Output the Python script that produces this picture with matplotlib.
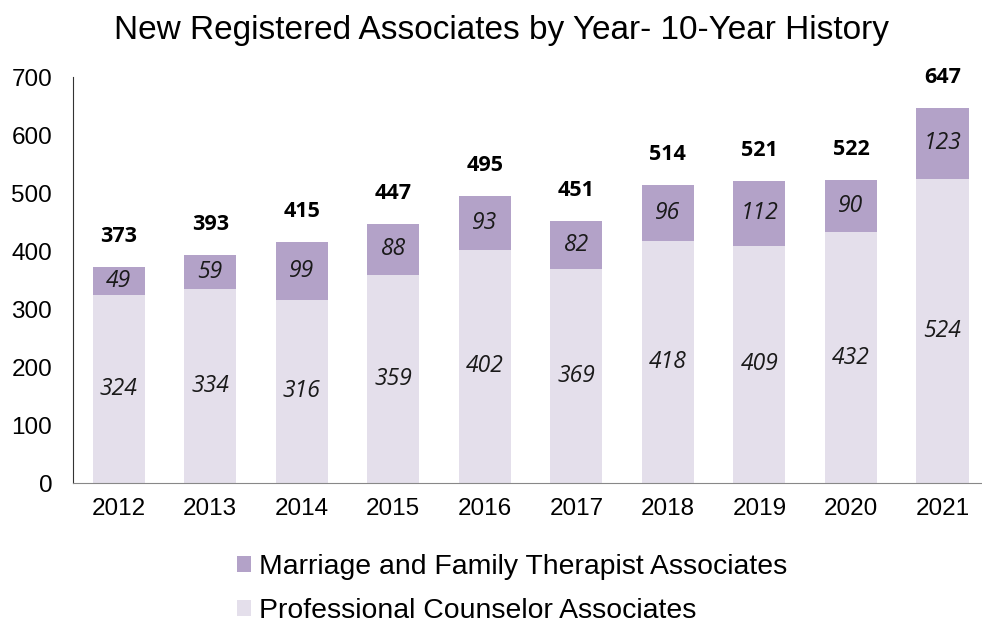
import matplotlib.pyplot as plt
import numpy as np

years = ["2012", "2013", "2014", "2015", "2016", "2017", "2018", "2019", "2020", "2021"]
pc = [324, 334, 316, 359, 402, 369, 418, 409, 432, 524]
mft = [49, 59, 99, 88, 93, 82, 96, 112, 90, 123]
totals = [373, 393, 415, 447, 495, 451, 514, 521, 522, 647]

c_pc = "#e4dfeb"
c_mft = "#b3a2c8"

plt.rcParams["font.family"] = ["Liberation Sans", "DejaVu Sans"]

fig = plt.figure(figsize=(9.82, 6.25), dpi=100)
ax = fig.add_axes([0.0743, 0.2272, 0.932, 0.6496])

x = np.arange(len(years))
w = 0.57
b1 = ax.bar(x, pc, w, color=c_pc, label="Professional Counselor Associates")
b2 = ax.bar(x, mft, w, bottom=pc, color=c_mft, label="Marriage and Family Therapist Associates")

for i in range(len(years)):
    ax.text(x[i], pc[i] / 2, str(pc[i]), ha="center", va="center", fontsize=16.5,
            style="italic", family="Open Sans", color="#1a1a1a")
    ax.text(x[i], pc[i] + mft[i] / 2, str(mft[i]), ha="center", va="center", fontsize=16.5,
            style="italic", family="Open Sans", color="#1a1a1a")
    ax.annotate(str(totals[i]), (x[i], totals[i]), xytext=(0, 22), textcoords="offset points",
                ha="center", va="center", fontsize=15.5, fontweight="bold", family="Open Sans")

ax.set_xlim(-0.5, len(years) - 0.5)
ax.set_ylim(0, 700)
ax.set_yticks(range(0, 701, 100))
ax.set_xticks(x)
ax.set_xticklabels(years)
ax.tick_params(axis="both", labelsize=17.5, length=0)
ax.tick_params(axis="x", pad=11)
ax.tick_params(axis="y", pad=15)
for s in ["top", "right"]:
    ax.spines[s].set_visible(False)
ax.spines["bottom"].set_color("#888888")
ax.spines["left"].set_color("#333333")

fig.text(0.511, 0.952, "New Registered Associates by Year- 10-Year History",
         fontsize=24, ha="center", va="center")

fig.legend(handles=[b2, b1], loc="upper left", bbox_to_anchor=(0.241, 0.113),
           fontsize=20.4, frameon=False, handlelength=0.5, handleheight=0.5,
           handletextpad=0.3, labelspacing=0.62, borderaxespad=0, borderpad=0)

fig.savefig("out.png", dpi=100)
